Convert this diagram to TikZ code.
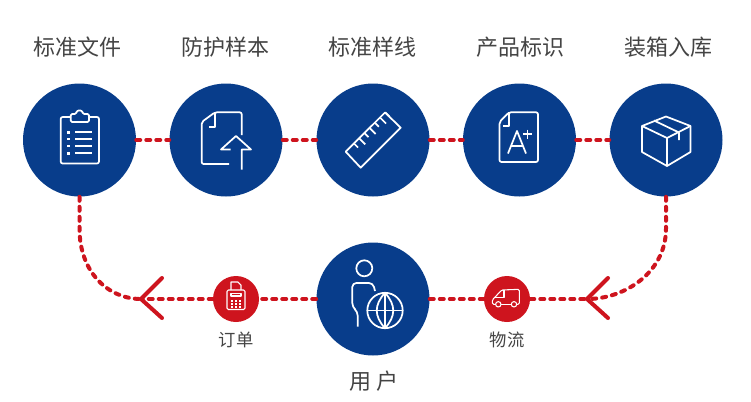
\documentclass[tikz,border=0pt]{standalone}
\usepackage{xcolor}
\usepackage{fontspec}
\setmainfont{Noto Sans CJK SC}
\usetikzlibrary{positioning}
\definecolor{BLUE}{HTML}{083D8B}
\definecolor{RED}{HTML}{CE141E}
\definecolor{INK}{HTML}{444444}

\begin{document}
\begin{tikzpicture}[
    x=0.75pt, y=-0.75pt,
    bigdisc/.style={circle, fill=BLUE, minimum size=84.75pt, inner sep=0pt},
    smalldisc/.style={circle, fill=RED, minimum size=34.5pt, inner sep=0pt},
    flow/.style={draw=RED, line width=3pt, line cap=round, dash pattern=on 3pt off 4.5pt},
    chevron/.style={draw=RED, line width=3pt, line cap=round, line join=miter},
    icon/.style={draw=white, line width=1.3pt, line join=round},
    thinicon/.style={draw=white, line width=0.8pt, line join=round},
    head/.style={font=\fontsize{16.5}{20}\selectfont, text=INK},
    sub/.style={font=\fontsize{13}{16}\selectfont, text=INK},
  ]
  \useasboundingbox (0,0) rectangle (751,401);

  % --- top row ---
  \node[bigdisc] (file) at (79.5,140) {};
  \node[bigdisc] (sample) at (226,140) {};
  \node[bigdisc] (line) at (373,140) {};
  \node[bigdisc] (mark) at (519.5,140) {};
  \node[bigdisc] (box) at (666,140) {};

  % --- bottom row ---
  \node[bigdisc] (user) at (373,299) {};
  \node[smalldisc] (order) at (236,299) {};
  \node[smalldisc] (truck) at (507,299) {};
  \coordinate (tipl) at (141,299);
  \coordinate (tipr) at (587,299);

  % --- labels ---
  \node[head] (lfile) at (77,47) {标准文件};
  \node[head] (lsample) at (225,47) {防护样本};
  \node[head] (lline) at (372.5,47) {标准样线};
  \node[head] (lmark) at (520,47) {产品标识};
  \node[head] (lbox) at (668,47) {装箱入库};
  \node[head] (luser) at (374,381) {用 户};
  \node[sub] (lorder) at (236,340) {订单};
  \node[sub] (ltruck) at (507,340) {物流};

  % --- connectors ---
  \foreach \a/\b in {file/sample, sample/line, line/mark, mark/box}
    \draw[flow] (\a) -- (\b);
  \draw[flow] (user) -- (order);
  \draw[flow] (order) -- (tipl);
  \draw[flow] (user) -- (truck);
  \draw[flow] (truck) -- (tipr);
  \draw[flow] (file.south) -- ++(0,32) .. controls (79.5,272) and (108,299) .. (tipl);
  \draw[flow] (box.south) -- ++(0,32) .. controls (666,272) and (625,299) .. (tipr);
  \draw[chevron] (162,278) -- (tipl) -- (162,318);
  \draw[chevron] (608,278) -- (tipr) -- (608,318);

  % clipboard
  \draw[icon, rounded corners=1.5] (70.5,117) -- (60.7,117) -- (60.7,163.5) -- (99,163.5) -- (99,117) -- (89,117);
  \draw[icon, rounded corners=1] (70.7,122) -- (70.7,114) -- (76,114) -- (77,110.5) -- (82,110.5) -- (83,114) -- (89,114) -- (89,122) -- cycle;
  \foreach \y in {132.3,139,146,153.3} {
    \fill[white] (67,\y-1.3) rectangle (70,\y+1.3);
    \draw[icon] (75,\y) -- (92,\y);
  }

  % document and arrow
  \draw[icon, rounded corners=1.5] (229,164) -- (201.7,164) -- (201.7,122) -- (215,112.3) -- (241.7,112.3) -- (241.7,135);
  \draw[icon] (215,112.3) -- (215,126.7) -- (209,126.7);
  \draw[icon] (230.5,149.5) -- (221,149.5) -- (236,136) -- (251,149.5) -- (241.7,149.5) -- (241.7,169.5);

  % ruler
  \draw[icon] (345.7,151.7) -- (385,112.5) -- (400.7,127.7) -- (360.7,167.7) -- cycle;
  \foreach \i/\t in {0/4,1/6,2/4,3/6,4/4,5/6,6/4}
    \draw[icon] (354+\i*5.2,143.5-\i*5.2) -- ++(\t,\t);

  % mark sheet
  \draw[icon, rounded corners=1.5] (509,112.3) -- (538,112.3) -- (538,162) -- (499.5,162) -- (499.5,122) -- cycle;
  \draw[icon] (509,112.3) -- (509,126) -- (503,126);
  \draw[icon] (508,153.5) -- (517,131) -- (526,153.5);
  \draw[icon] (511,146) -- (523,146);
  \draw[icon] (523,134) -- (532,134);
  \draw[icon] (527.5,129.5) -- (527.5,138.5);

  % carton
  \draw[icon] (642,126) -- (666,116.5) -- (690.5,126) -- (690.5,152) -- (667,166) -- (642,152) -- cycle;
  \draw[icon] (642,126) -- (667,138) -- (690.5,126);
  \draw[icon] (667,138) -- (667,166);
  \draw[icon] (654,120.5) -- (679,132.5) -- (679,140);

  % person and globe
  \draw[icon] (364.3,268.3) circle (8);
  \draw[icon, rounded corners=3] (375,291) -- (373,283) -- (352.3,283) -- (352.3,307) -- (357.7,311.7) -- (357.7,326.7);
  \draw[icon] (385,310.5) circle (17.7);
  \draw[icon] (385,292.8) -- (385,328.2);
  \draw[icon] (367.3,310.5) -- (402.7,310.5);
  \draw[icon] (385,292.8) .. controls (374,305) and (374,316) .. (385,328.2);
  \draw[icon] (385,292.8) .. controls (396,305) and (396,316) .. (385,328.2);

  % till
  \draw[thinicon] (231,290) -- (231,282) -- (238,282) -- (241,285) -- (241,290);
  \draw[thinicon, rounded corners=1] (227,290) rectangle (245,309.5);
  \draw[thinicon] (231,293.3) rectangle (241,296);
  \foreach \r in {0,1,2}
    \foreach \c in {0,1,2}
      \fill[white] (231+\c*4,300+\r*3.2) rectangle ++(2.2,1.5);

  % van
  \draw[thinicon, rounded corners=1] (495.6,304.3) -- (492.3,304.3) -- (492.3,300) -- (501.7,290) -- (519.3,289.3) -- (519.3,304.3) -- (516.7,304.3);
  \draw[thinicon] (501,304.3) -- (511.3,304.3);
  \draw[thinicon] (494.5,297.7) -- (504,297.7) -- (504,290);
  \draw[thinicon] (498.3,304.3) circle (2.7);
  \draw[thinicon] (514,304.3) circle (2.7);

\end{tikzpicture}
\end{document}
